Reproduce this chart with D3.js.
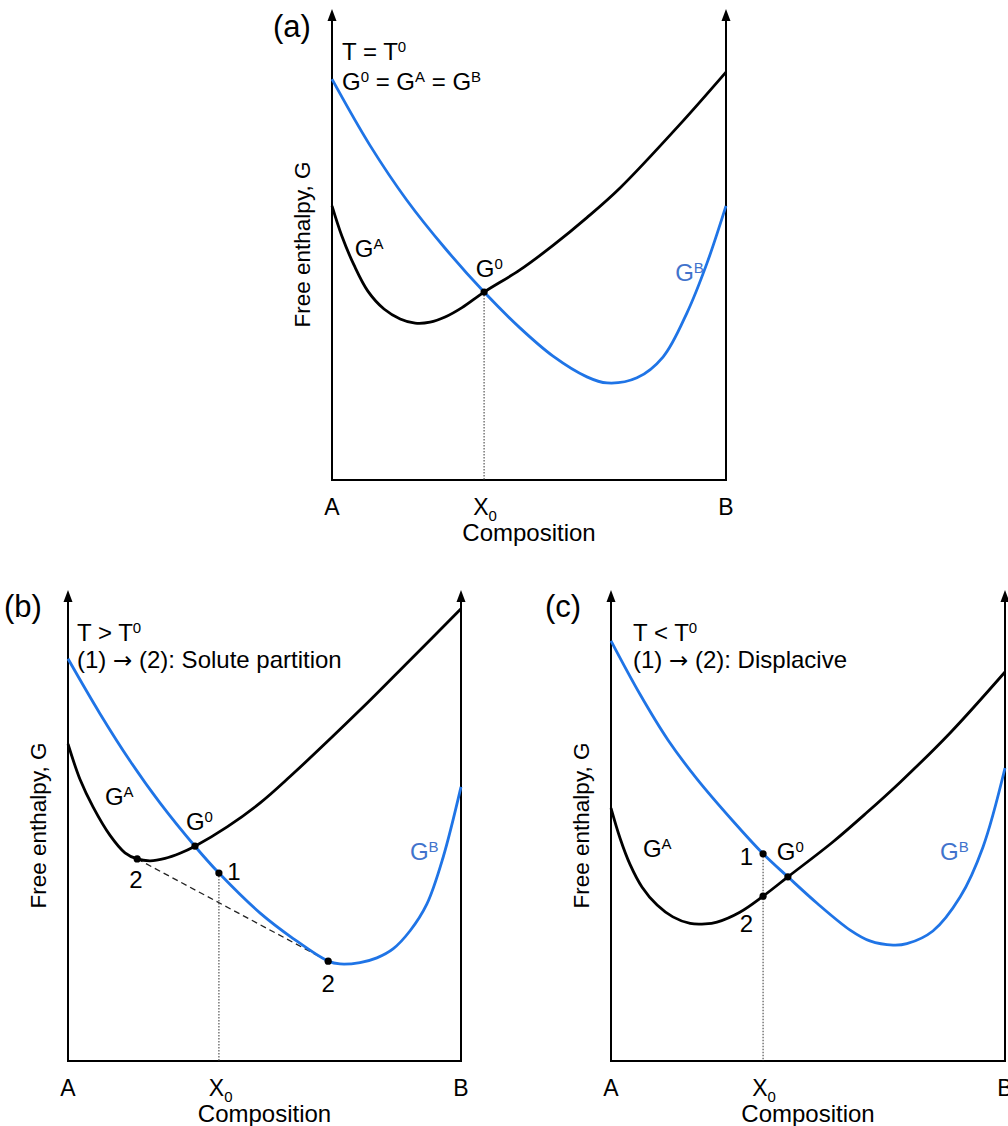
<!DOCTYPE html>
<html>
<head>
<meta charset="utf-8">
<script src="https://cdn.jsdelivr.net/npm/d3@7"></script>
<style>
  html, body { margin: 0; padding: 0; background: #fff; }
  svg { display: block; font-family: "Liberation Sans", Arial, Helvetica, sans-serif; }
</style>
</head>
<body>
<div id="chart"></div>
<script>
// Free-enthalpy curves G(composition) for phases A and B at three temperatures.
// Composition runs from pure A (0) to pure B (1); G is in arbitrary units (0 = axis floor).

const compositionLabels = ["A", "B"];
const X0 = 0.386;

// (a) T = T0
const panelA_GA = [[0, 58.2], [0.025, 51.8], [0.056, 45.6], [0.091, 40.1], [0.132, 36.3], [0.173, 34.2], [0.211, 33.3], [0.249, 33.5], [0.287, 34.6], [0.330, 36.6], [0.386, 39.9], [0.477, 44.6], [0.561, 49.8], [0.647, 55.7], [0.731, 62.0], [0.883, 75.5], [1, 86.6]];
const panelA_GB = [[0, 85.1], [0.096, 71.1], [0.190, 59.4], [0.287, 49.2], [0.386, 39.9], [0.477, 32.3], [0.561, 26.3], [0.647, 21.9], [0.698, 20.6], [0.774, 21.7], [0.840, 26.1], [0.901, 35.5], [0.952, 46.1], [1, 58.2]];
const panelA_marks = [[0.386, 39.9]];

// (b) T > T0
const panelB_GA = [[0, 67.3], [0.031, 59.7], [0.064, 53.9], [0.107, 47.9], [0.145, 44.2], [0.176, 42.9], [0.209, 42.5], [0.247, 43.0], [0.285, 44.1], [0.323, 45.6], [0.405, 49.7], [0.489, 54.8], [0.565, 60.4], [0.743, 74.5], [0.870, 85.1], [1, 96.0]];
const panelB_GB = [[0, 85.4], [0.081, 73.8], [0.158, 63.7], [0.234, 54.8], [0.323, 45.6], [0.384, 39.9], [0.489, 31.4], [0.573, 26.0], [0.662, 21.2], [0.692, 20.6], [0.743, 20.9], [0.786, 21.9], [0.827, 23.8], [0.870, 27.6], [0.913, 33.3], [0.954, 43.1], [1, 58.2]];
const panelB_marks = [[0.176, 42.9], [0.323, 45.6], [0.384, 39.9], [0.662, 21.2]];
const panelB_tangent = [[0.176, 42.9], [0.662, 21.2]];

// (c) T < T0
const panelC_GA = [[0, 53.7], [0.023, 47.3], [0.048, 41.8], [0.079, 36.9], [0.117, 33.1], [0.157, 30.6], [0.201, 29.2], [0.239, 29.1], [0.269, 29.5], [0.327, 31.6], [0.386, 35.0], [0.449, 39.1], [0.563, 46.5], [0.650, 52.8], [0.734, 59.2], [0.860, 69.6], [1, 82.6]];
const panelC_GB = [[0, 89.2], [0.074, 77.8], [0.145, 68.1], [0.218, 59.9], [0.310, 50.9], [0.386, 44.0], [0.449, 39.1], [0.523, 33.5], [0.607, 27.8], [0.657, 25.5], [0.716, 24.6], [0.751, 24.9], [0.817, 27.6], [0.886, 34.8], [0.944, 45.4], [1, 62.2]];
const panelC_marks = [[0.386, 44.0], [0.386, 35.0], [0.449, 39.1]];

const BLUE = "#1f74e6";
const BLUE_TEXT = "#4173cc";
const FS = 24;

const svg = d3.select("#chart").append("svg")
  .attr("width", 1008).attr("height", 1126);

// Text with superscript / subscript / arrow pieces: parts = [[text, kind], ...]
function rich(parent, x, y, parts, anchor, fill, size) {
  const t = parent.append("text")
    .attr("x", x).attr("y", y)
    .attr("font-size", size || FS)
    .attr("text-anchor", anchor || "start")
    .attr("fill", fill || "#000");
  let shift = 0;
  parts.forEach(([s, k]) => {
    const target = k === "sup" ? -8 : k === "sub" ? 6 : 0;
    const ts = t.append("tspan").attr("dy", target - shift).text(s);
    if (k === "sup" || k === "sub") ts.attr("font-size", 15);
    if (k === "arrow") ts.attr("font-family", "DejaVu Sans").attr("font-size", 23);
    shift = target;
  });
  return t;
}

function drawPanel(cfg) {
  const g = svg.append("g");
  const x = d3.scaleLinear().domain([0, 1]).range([cfg.left, cfg.right]);
  const y = d3.scaleLinear().domain([0, 100]).range([cfg.bottom, cfg.top]);

  // Axes: two vertical arrows and the composition baseline
  [0, 1].forEach(v => {
    g.append("line")
      .attr("x1", x(v)).attr("x2", x(v))
      .attr("y1", y(0)).attr("y2", y(100) + 8)
      .attr("stroke", "#000").attr("stroke-width", 2);
    g.append("path")
      .attr("d", `M${x(v)},${y(100)} L${x(v) - 4.5},${y(100) + 12} L${x(v) + 4.5},${y(100) + 12} Z`)
      .attr("fill", "#000");
  });
  g.append("line")
    .attr("x1", x(0) - 1).attr("x2", x(1) + 1)
    .attr("y1", y(0)).attr("y2", y(0))
    .attr("stroke", "#000").attr("stroke-width", 2);

  // Composition labels
  compositionLabels.forEach((lab, i) => {
    g.append("text").attr("x", x(i)).attr("y", y(0) + 35)
      .attr("font-size", 23).attr("text-anchor", "middle").text(lab);
  });
  rich(g, x(X0) + 1, y(0) + 35, [["X", ""], ["0", "sub"]], "middle", null, 23);
  g.append("text").attr("x", (x(0) + x(1)) / 2).attr("y", y(0) + 61)
    .attr("font-size", FS).attr("text-anchor", "middle").text("Composition");

  // Y axis title
  g.append("text")
    .attr("transform", `translate(${x(0) - 22},${(y(0) + y(100)) / 2}) rotate(-90)`)
    .attr("font-size", 22.5).attr("text-anchor", "middle")
    .text("Free enthalpy, G");

  // Panel tag and condition text
  g.append("text").attr("x", cfg.tag[1]).attr("y", cfg.tag[2])
    .attr("font-size", 31).text(cfg.tag[0]);
  cfg.header.forEach(h => rich(g, h.x, h.y, h.parts));

  // Drop line from the marked composition to the axis
  g.append("line")
    .attr("x1", x(cfg.drop[0])).attr("x2", x(cfg.drop[0]))
    .attr("y1", y(cfg.drop[1])).attr("y2", y(0))
    .attr("stroke", "#555").attr("stroke-width", 1.2)
    .attr("stroke-dasharray", "1.5,1.5");

  if (cfg.tangent) {
    g.append("line")
      .attr("x1", x(cfg.tangent[0][0])).attr("y1", y(cfg.tangent[0][1]))
      .attr("x2", x(cfg.tangent[1][0])).attr("y2", y(cfg.tangent[1][1]))
      .attr("stroke", "#222").attr("stroke-width", 1.3)
      .attr("stroke-dasharray", "6,4");
  }

  const line = d3.line()
    .x(d => x(d[0])).y(d => y(d[1]))
    .curve(d3.curveCatmullRom.alpha(0.5));

  g.append("path").datum(cfg.GB).attr("d", line)
    .attr("fill", "none").attr("stroke", BLUE).attr("stroke-width", 2.8);
  g.append("path").datum(cfg.GA).attr("d", line)
    .attr("fill", "none").attr("stroke", "#000").attr("stroke-width", 2.8);

  g.selectAll("circle.mark").data(cfg.marks).join("circle")
    .attr("class", "mark")
    .attr("cx", d => x(d[0])).attr("cy", d => y(d[1]))
    .attr("r", 3.6).attr("fill", "#000");

  // Curve and point annotations (positions in data units)
  cfg.labels.forEach(l => {
    rich(g, x(l.at[0]), y(l.at[1]), l.parts, l.anchor, l.fill);
  });
}

const GA = [["G", ""], ["A", "sup"]];
const GB = [["G", ""], ["B", "sup"]];
const G0 = [["G", ""], ["0", "sup"]];

drawPanel({
  left: 332, right: 726, top: 9, bottom: 480,
  tag: ["(a)", 273, 37],
  header: [
    { x: 342, y: 60, parts: [["T = T", ""], ["0", "sup"]] },
    { x: 342, y: 90, parts: [["G", ""], ["0", "sup"], [" = G", ""], ["A", "sup"], [" = G", ""], ["B", "sup"]] }
  ],
  GA: panelA_GA, GB: panelA_GB, marks: panelA_marks,
  drop: [0.386, 39.9],
  labels: [
    { at: [0.058, 47.3], parts: GA },
    { at: [0.365, 43.1], parts: G0 },
    { at: [0.871, 42.3], parts: GB, fill: BLUE_TEXT }
  ]
});

drawPanel({
  left: 68, right: 461, top: 590, bottom: 1061,
  tag: ["(b)", 4, 617],
  header: [
    { x: 77, y: 641, parts: [["T > T", ""], ["0", "sup"]] },
    { x: 77, y: 668, parts: [["(1) ", ""], ["\u2192", "arrow"], [" (2): Solute partition", ""]] }
  ],
  GA: panelB_GA, GB: panelB_GB, marks: panelB_marks,
  drop: [0.384, 39.9],
  tangent: panelB_tangent,
  labels: [
    { at: [0.094, 54.4], parts: GA },
    { at: [0.300, 49.0], parts: G0 },
    { at: [0.405, 38.4], parts: [["1", ""]] },
    { at: [0.173, 36.7], parts: [["2", ""]], anchor: "middle" },
    { at: [0.662, 14.6], parts: [["2", ""]], anchor: "middle" },
    { at: [0.870, 42.7], parts: GB, fill: BLUE_TEXT }
  ]
});

drawPanel({
  left: 611, right: 1005, top: 590, bottom: 1061,
  tag: ["(c)", 545, 617],
  header: [
    { x: 633, y: 641, parts: [["T < T", ""], ["0", "sup"]] },
    { x: 633, y: 668, parts: [["(1) ", ""], ["\u2192", "arrow"], [" (2): Displacive", ""]] }
  ],
  GA: panelC_GA, GB: panelC_GB, marks: panelC_marks,
  drop: [0.386, 44.0],
  labels: [
    { at: [0.081, 43.3], parts: GA },
    { at: [0.327, 41.6], parts: [["1", ""]] },
    { at: [0.421, 42.7], parts: G0 },
    { at: [0.327, 27.4], parts: [["2", ""]] },
    { at: [0.835, 42.7], parts: GB, fill: BLUE_TEXT }
  ]
});
</script>
</body>
</html>
